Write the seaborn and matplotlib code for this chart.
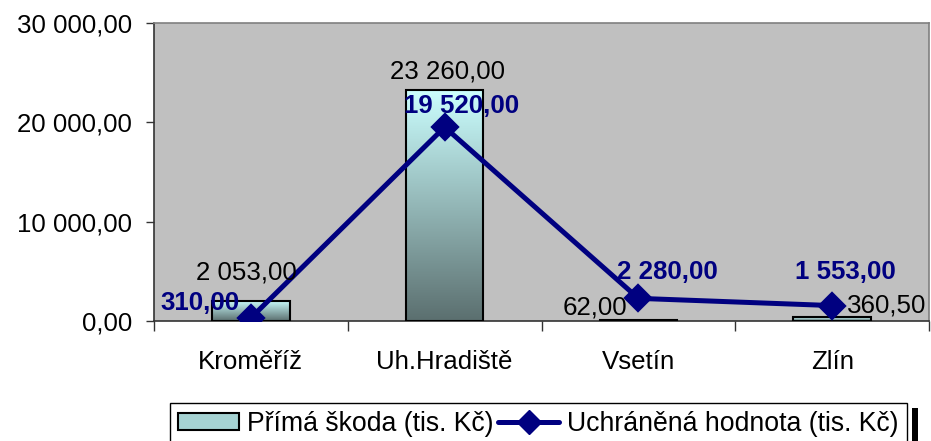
import numpy as np
import pandas as pd
import seaborn as sns
import matplotlib.pyplot as plt
from matplotlib.colors import LinearSegmentedColormap
from matplotlib.patches import Patch, Rectangle
from matplotlib.lines import Line2D
from matplotlib.ticker import FuncFormatter, FixedLocator

# data
okresy = ['Kroměříž', 'Uh.Hradiště', 'Vsetín', 'Zlín']
prima_skoda = [2053.00, 23260.00, 62.00, 360.50]
uchranena = [310.00, 19520.00, 2280.00, 1553.00]
yticks = [0, 10000, 20000, 30000]

# label offsets in px (dx, dy up)
bar_lbl_off = [(-4, 28), (3, 18), (-43, 13), (55, 12)]
line_lbl_off = [(-51, 15), (17, 21), (29, 26), (13, 34)]

df = pd.DataFrame({'okres': okresy, 'skoda': prima_skoda, 'hodnota': uchranena})

sns.set_style('white')
plt.rcParams['font.family'] = ['Liberation Sans', 'DejaVu Sans']
plt.rcParams['text.color'] = 'black'
plt.rcParams['xtick.color'] = 'black'
plt.rcParams['ytick.color'] = 'black'
FS = 18.6
LFS = 19.2

def cz(v, pos=None):
    s = '{:,.2f}'.format(v)
    return s.replace(',', ' ').replace('.', ',')

fig = plt.figure(figsize=(9.31, 4.41), dpi=100)
ax = fig.add_axes([154 / 931, 120 / 441, (929 - 154) / 931, (321 - 23) / 441])
ax.set_facecolor('#C0C0C0')

sns.barplot(data=df, x='okres', y='skoda', width=0.4, ax=ax,
            color='#99C7C7', edgecolor='black', linewidth=1.5, zorder=3)

# vertical gradient inside every bar
cmap = LinearSegmentedColormap.from_list('grad', ['#5B6F6F', '#CCFFFF'])
grad = np.linspace(0, 1, 256).reshape(-1, 1)
for p in list(ax.patches):
    x0, y0, w, h = p.get_x(), p.get_y(), p.get_width(), p.get_height()
    im = ax.imshow(grad, extent=[x0, x0 + w, y0, y0 + h], origin='lower',
                   aspect='auto', cmap=cmap, zorder=2.5)
    im.set_clip_path(p)
    p.set_facecolor('none')

sns.pointplot(data=df, x='okres', y='hodnota', color='#000080', markers='D',
              linestyles='-', markersize=12.5, linewidth=3.6, errorbar=None, ax=ax)
for coll in ax.collections:
    coll.set_zorder(5)
for ln in ax.lines:
    ln.set_zorder(5)

ax.set_xlim(-0.5, 3.5)
ax.set_ylim(0, 30000)
ax.set_xlabel('')
ax.set_ylabel('')

for i, v in enumerate(prima_skoda):
    dx, dy = bar_lbl_off[i]
    ax.annotate(cz(v), (i, v), xytext=(dx * 0.72, dy * 0.72), textcoords='offset points',
                ha='center', va='center', fontsize=FS, color='black', zorder=6)
for i, v in enumerate(uchranena):
    dx, dy = line_lbl_off[i]
    ax.annotate(cz(v), (i, v), xytext=(dx * 0.72, dy * 0.72), textcoords='offset points',
                ha='center', va='center', fontsize=FS, color='#000080',
                fontweight='bold', zorder=6)

ax.set_yticks(yticks)
ax.yaxis.set_major_formatter(FuncFormatter(cz))
ax.tick_params(axis='y', direction='out', length=6, width=1, color='#333333',
               labelcolor='black', labelsize=FS, pad=10, left=True)
ax.set_xticks(range(len(okresy)))
ax.set_xticklabels(okresy)
ax.tick_params(axis='x', which='major', length=0, labelsize=FS, labelcolor='black', pad=21)
ax.xaxis.set_minor_locator(FixedLocator(np.arange(-0.5, len(okresy), 1.0)))
ax.tick_params(axis='x', which='minor', direction='out', length=7, width=1,
               color='#333333', bottom=True)

for s in ['left', 'bottom']:
    ax.spines[s].set_color('#333333')
    ax.spines[s].set_linewidth(1.2)
for s in ['top', 'right']:
    ax.spines[s].set_color('#808080')
    ax.spines[s].set_linewidth(1.2)

handles = [Patch(facecolor='#A6D3D3', edgecolor='black', linewidth=1.5),
           Line2D([], [], color='#000080', lw=3.6, marker='D', markersize=12.5)]
labels = ['Přímá škoda (tis. Kč)', 'Uchráněná hodnota (tis. Kč)']

# shadow strip at right of the legend
fig.patches.append(Rectangle((912 / 931, 0), 6 / 931, 33 / 441, transform=fig.transFigure,
                             facecolor='black', edgecolor='none', zorder=0))
leg = fig.legend(handles, labels, loc='upper left', bbox_to_anchor=(170 / 931, 1 - 403 / 441),
                 ncol=2, fontsize=LFS, frameon=True, fancybox=False, borderaxespad=0,
                 handlelength=2.3, handleheight=0.6, handletextpad=0.3, columnspacing=0.15,
                 borderpad=0.3, labelcolor='black')
leg.get_frame().set_edgecolor('black')
leg.get_frame().set_linewidth(1)
leg.get_frame().set_alpha(1)

fig.savefig('out.png', dpi=100)
